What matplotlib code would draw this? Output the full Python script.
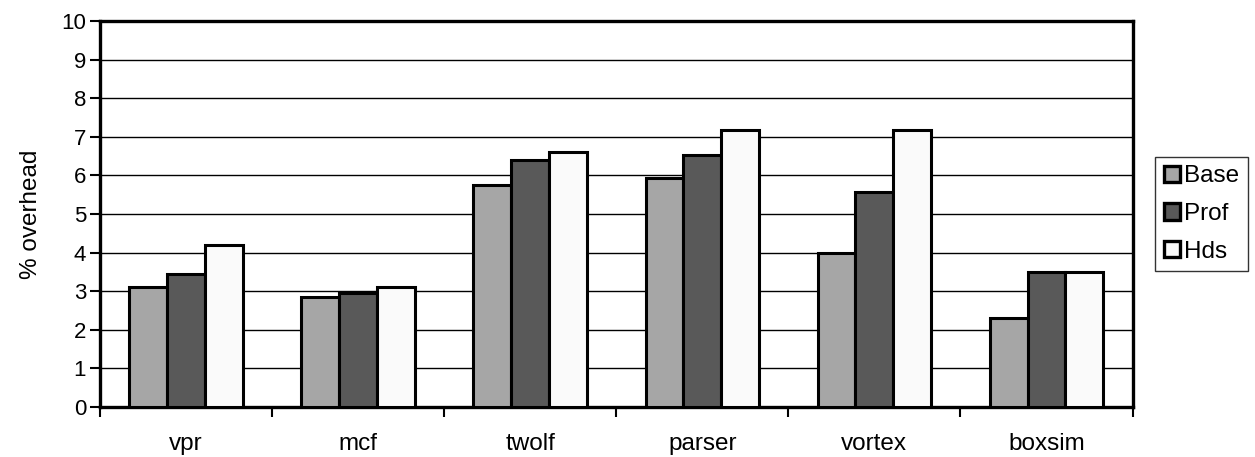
import numpy as np
import matplotlib
matplotlib.use("Agg")
import matplotlib.pyplot as plt

plt.rcParams['font.family'] = ['Liberation Sans', 'DejaVu Sans']

# benchmarks and overhead percentages for each configuration
benchmarks = ["vpr", "mcf", "twolf", "parser", "vortex", "boxsim"]
base = [3.1, 2.86, 5.75, 5.94, 4.0, 2.31]
prof = [3.45, 2.96, 6.4, 6.54, 5.58, 3.5]
hds = [4.2, 3.12, 6.6, 7.18, 7.17, 3.5]

series = [("Base", base, "#a6a6a6"),
          ("Prof", prof, "#595959"),
          ("Hds", hds, "#fafafa")]

fig = plt.figure(figsize=(12.55, 4.57), dpi=100)
ax = fig.add_axes([0.0797, 0.1094, 0.8227, 0.8446])

x = np.arange(len(benchmarks))
width = 0.22
for i, (name, vals, color) in enumerate(series):
    ax.bar(x + (i - 1) * width, vals, width, color=color,
           edgecolor="black", linewidth=2.2, label=name, zorder=3)

ax.set_xlim(-0.5, len(benchmarks) - 0.5)
ax.set_ylim(0, 10)
ax.set_yticks(range(0, 11))
ax.yaxis.grid(True, color="black", linewidth=1.0, zorder=0)

# category boundaries get the tick marks, names sit between them
ax.set_xticks(np.arange(-0.5, len(benchmarks)), minor=False)
ax.set_xticklabels([])
ax.set_xticks(x, minor=True)
ax.set_xticklabels(benchmarks, minor=True, fontsize=17.5)
ax.tick_params(axis="x", which="minor", length=0, pad=19)
ax.tick_params(axis="x", which="major", length=7, width=1.5, direction="out")
ax.tick_params(axis="y", length=7, width=1.5, direction="out", labelsize=16, pad=3)

for spine in ax.spines.values():
    spine.set_linewidth(2.4)

ax.set_ylabel("% overhead", fontsize=17.5, labelpad=14)

leg = ax.legend(loc="center left", bbox_to_anchor=(1.022, 0.5), fontsize=17.5,
                frameon=True, fancybox=False, edgecolor="black",
                handlelength=0.65, handleheight=0.65, handletextpad=0.2,
                labelspacing=0.65, borderpad=0.35, borderaxespad=0.0)
leg.get_frame().set_linewidth(1.0)
for patch in leg.get_patches():
    patch.set_linewidth(2.4)

fig.savefig("out.png", dpi=100)
